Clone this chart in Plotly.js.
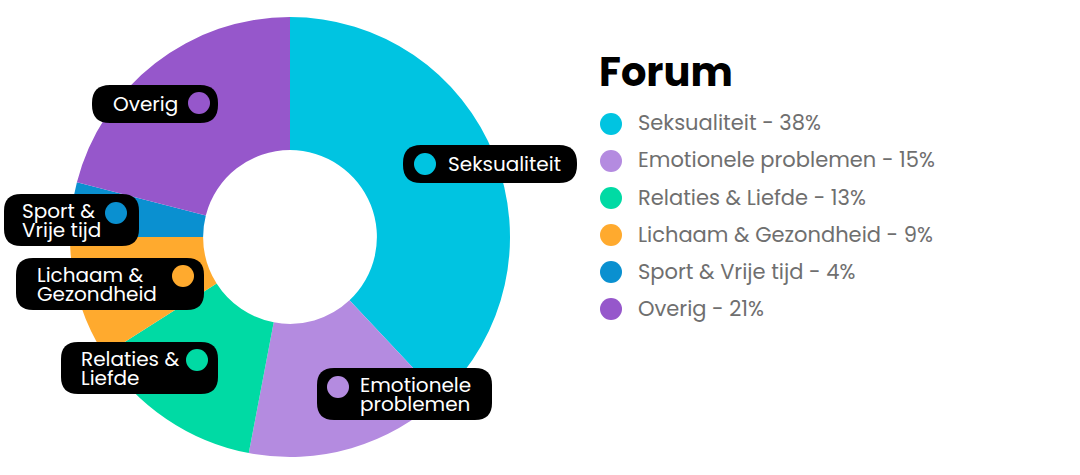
<!DOCTYPE html>
<html><head><meta charset="utf-8">
<script src="https://cdn.plot.ly/plotly-3.0.1.min.js"></script>
<style>html,body{margin:0;padding:0;background:#fff}#chart{width:1080px;height:475px}</style>
</head><body><div id="chart"></div>
<script>
const categories = ["Seksualiteit","Emotionele problemen","Relaties & Liefde","Lichaam & Gezondheid","Sport & Vrije tijd","Overig"];
const values = [38,15,13,9,4,21];
const colors = ["#00C4E1","#B48BE0","#00DAA4","#FFAA2E","#0A90D0","#9657CB"];
const sliceLabels = ["Seksualiteit","Emotionele<br>problemen","Relaties &<br>Liefde","Lichaam &<br>Gezondheid","Sport &<br>Vrije tijd","Overig"];
const legendTitle = "Forum";

const W = 1080, H = 475;
const px = x => x / W, py = y => 1 - y / H;
const FONT = "Poppins, 'Open Sans', sans-serif";

// label box layout (pixels)
const boxes = [
  {l:403,r:577,t:145,b:183,dx:425,dy:164,tx:446},
  {l:317,r:492,t:368,b:420,dx:338,dy:387,tx:358},
  {l:61,r:218,t:342,b:394,dx:197,dy:360,tx:79},
  {l:16,r:204,t:258,b:310,dx:183,dy:276,tx:35},
  {l:4,r:139,t:194,b:246,dx:116,dy:213,tx:20},
  {l:92,r:218,t:85,b:123,dx:199,dy:103,tx:111}
];

function roundRect(l,t,r,b,rad){
  const P=(x,y)=>px(x)+','+py(y);
  return 'M'+P(l+rad,t)+' L'+P(r-rad,t)+' Q'+P(r,t)+' '+P(r,t+rad)+
    ' L'+P(r,b-rad)+' Q'+P(r,b)+' '+P(r-rad,b)+
    ' L'+P(l+rad,b)+' Q'+P(l,b)+' '+P(l,b-rad)+
    ' L'+P(l,t+rad)+' Q'+P(l,t)+' '+P(l+rad,t)+' Z';
}

const shapes = [], annotations = [];
boxes.forEach((bx,i)=>{
  const rad = (bx.b-bx.t) < 45 ? 18 : 17;
  shapes.push({type:'path',xref:'paper',yref:'paper',path:roundRect(bx.l,bx.t,bx.r,bx.b,rad),
    fillcolor:'#000',line:{width:0}});
  shapes.push({type:'circle',xref:'paper',yref:'paper',x0:px(bx.dx-11),x1:px(bx.dx+11),
    y0:py(bx.dy+11),y1:py(bx.dy-11),fillcolor:colors[i],line:{width:0}});
  const lines = sliceLabels[i].split('<br>');
  const cy = (bx.t+bx.b)/2, lh = 19;
  lines.forEach((ln,k)=>{
    const y = cy + (k - (lines.length-1)/2)*lh;
    annotations.push({xref:'paper',yref:'paper',x:px(bx.tx),y:py(y),xanchor:'left',yanchor:'middle',
      align:'left',showarrow:false,text:ln,font:{family:FONT,size:20,color:'#fff'}});
  });
});

// manual legend
annotations.push({xref:'paper',yref:'paper',x:px(597),y:py(72),xanchor:'left',yanchor:'middle',showarrow:false,
  text:'<b>'+legendTitle+'</b>',font:{family:FONT,size:40,color:'#000'}});
const legY0 = 124, legStep = 37;
categories.forEach((c,i)=>{
  const y = legY0 + i*legStep;
  shapes.push({type:'circle',xref:'paper',yref:'paper',x0:px(600),x1:px(622),y0:py(y+11),y1:py(y-11),
    fillcolor:colors[i],line:{width:0}});
  annotations.push({xref:'paper',yref:'paper',x:px(636),y:py(y-1),xanchor:'left',yanchor:'middle',showarrow:false,
    text:c+' - '+values[i]+'%',font:{family:FONT,size:21,color:'#6F6F6F'}});
});

const trace = {type:'pie',labels:categories,values:values,sort:false,direction:'clockwise',rotation:0,
  hole:0.395,textinfo:'none',hoverinfo:'label+percent',marker:{colors:colors,line:{color:'#fff',width:0}},
  domain:{x:[px(70),px(510)],y:[py(457),py(17)]},showlegend:false};

Plotly.newPlot('chart',[trace],{width:W,height:H,margin:{l:0,r:0,t:0,b:0},paper_bgcolor:'#fff',
  showlegend:false,shapes:shapes,annotations:annotations,font:{family:FONT}},{staticPlot:true});
</script></body></html>
